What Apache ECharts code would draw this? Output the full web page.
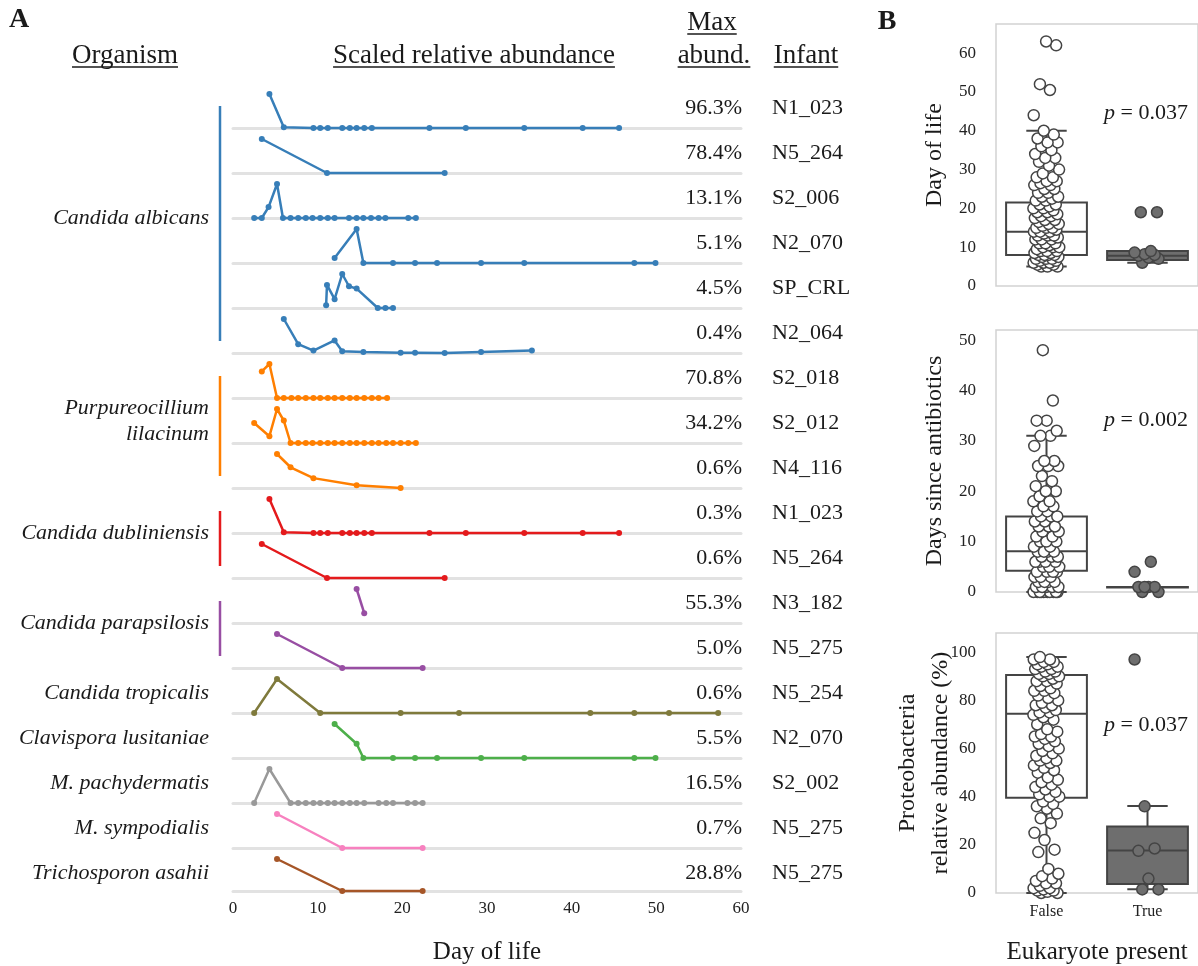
<!DOCTYPE html>
<html lang="en">
<head>
<meta charset="UTF-8" />
<title>Eukaryotes in infant gut</title>
<style>
  html, body { margin: 0; padding: 0; background: #fff; }
  #main { width: 1198px; height: 966px; }
</style>
</head>
<body>
<div id="main"></div>
<script src="https://cdn.jsdelivr.net/npm/echarts@6.0.0/dist/echarts.min.js"></script>
<script>
// ---- panel A data: one row per organism / infant pair ----
const organisms = ['Candida albicans', 'Purpureocillium\nlilacinum', 'Candida dubliniensis', 'Candida parapsilosis',
  'Candida tropicalis', 'Clavispora lusitaniae', 'M. pachydermatis', 'M. sympodialis', 'Trichosporon asahii']
const rowOrganism = [0, 0, 0, 0, 0, 0, 1, 1, 1, 2, 2, 3, 3, 4, 5, 6, 7, 8]
const rowMaxAbund = ['96.3%', '78.4%', '13.1%', '5.1%', '4.5%', '0.4%', '70.8%', '34.2%', '0.6%',
  '0.3%', '0.6%', '55.3%', '5.0%', '0.6%', '5.5%', '16.5%', '0.7%', '28.8%']
const rowInfant = ['N1_023', 'N5_264', 'S2_006', 'N2_070', 'SP_CRL', 'N2_064', 'S2_018', 'S2_012', 'N4_116',
  'N1_023', 'N5_264', 'N3_182', 'N5_275', 'N5_254', 'N2_070', 'S2_002', 'N5_275', 'N5_275']
const rowDays = [
  [4.3, 6.0, 9.5, 10.3, 11.2, 12.9, 13.8, 14.6, 15.5, 16.4, 23.2, 27.5, 34.4, 41.3, 45.6],
  [3.4, 11.1, 25.0],
  [2.5, 3.4, 4.2, 5.2, 5.9, 6.8, 7.7, 8.6, 9.4, 10.3, 11.2, 12.0, 13.7, 14.6, 15.4, 16.3, 17.2, 18.0, 20.7, 21.6],
  [12.0, 14.6, 15.4, 18.9, 21.5, 24.1, 29.3, 34.4, 47.4, 49.9],
  [11.0, 11.1, 12.0, 12.9, 13.7, 14.6, 17.1, 18.0, 18.9],
  [6.0, 7.7, 9.5, 12.0, 12.9, 15.4, 19.8, 21.5, 25.0, 29.3, 35.3],
  [3.4, 4.3, 5.2, 6.0, 6.9, 7.7, 8.6, 9.5, 10.3, 11.2, 12.0, 12.9, 13.8, 14.6, 15.5, 16.4, 17.2, 18.2],
  [2.5, 4.3, 5.2, 6.0, 6.8, 7.7, 8.6, 9.4, 10.3, 11.2, 12.0, 12.9, 13.8, 14.6, 15.5, 16.4, 17.2, 18.1, 18.9, 19.8, 20.7, 21.6],
  [5.2, 6.8, 9.5, 14.6, 19.8],
  [4.3, 6.0, 9.5, 10.3, 11.2, 12.9, 13.8, 14.6, 15.5, 16.4, 23.2, 27.5, 34.4, 41.3, 45.6],
  [3.4, 11.1, 25.0],
  [14.6, 15.5],
  [5.2, 12.9, 22.4],
  [2.5, 5.2, 10.3, 19.8, 26.7, 42.2, 47.4, 51.5, 57.3],
  [12.0, 14.6, 15.4, 18.9, 21.5, 24.1, 29.3, 34.4, 47.4, 49.9],
  [2.5, 4.3, 6.8, 7.7, 8.6, 9.5, 10.3, 11.2, 12.0, 12.9, 13.8, 14.6, 15.5, 17.2, 18.1, 18.9, 20.6, 21.5, 22.4],
  [5.2, 12.9, 22.4],
  [5.2, 12.9, 22.4]
]
const rowScaled = [
  [1, 0.02, 0, 0, 0, 0, 0, 0, 0, 0, 0, 0, 0, 0, 0],
  [1, 0, 0],
  [0, 0, 0.32, 1, 0, 0, 0, 0, 0, 0, 0, 0, 0, 0, 0, 0, 0, 0, 0, 0],
  [0.15, 1, 0, 0, 0, 0, 0, 0, 0, 0],
  [0.08, 0.68, 0.26, 1, 0.64, 0.57, 0, 0, 0],
  [1, 0.26, 0.07, 0.37, 0.05, 0.03, 0.01, 0.01, 0, 0.03, 0.07],
  [0.78, 1, 0, 0, 0, 0, 0, 0, 0, 0, 0, 0, 0, 0, 0, 0, 0, 0],
  [0.59, 0.2, 1, 0.66, 0, 0, 0, 0, 0, 0, 0, 0, 0, 0, 0, 0, 0, 0, 0, 0, 0, 0],
  [1, 0.61, 0.29, 0.08, 0],
  [1, 0.02, 0, 0, 0, 0, 0, 0, 0, 0, 0, 0, 0, 0, 0],
  [1, 0, 0],
  [1, 0.29],
  [1, 0, 0],
  [0, 1, 0, 0, 0, 0, 0, 0, 0],
  [1, 0.42, 0, 0, 0, 0, 0, 0, 0, 0],
  [0, 1, 0, 0, 0, 0, 0, 0, 0, 0, 0, 0, 0, 0, 0, 0, 0, 0, 0],
  [1, 0, 0],
  [1, 0, 0]
]

// ---- panel B data ----
const eukPresent = ['False', 'True']
const dolFalse = [5, 5, 5, 5.5, 5.5, 6, 6, 6, 6.5, 6.5, 7, 7, 7, 7.5, 7.5, 8, 8, 8, 8, 8.5, 8.5, 9, 9, 9, 9.5,
  10, 10, 10, 10.5, 11, 11, 11, 12, 12, 12, 12.5, 13, 13, 13, 13.5, 14, 14, 14, 14.5, 15, 15, 15, 15.5, 16, 16,
  16.5, 17, 17, 17.5, 18, 18, 18.5, 19, 19, 19.5, 20, 20, 20.5, 21, 21, 22, 22, 22.5, 23, 23, 24, 24, 25, 25, 26,
  26, 26.5, 27, 27, 28, 28, 29, 30, 31, 32, 33, 33, 34, 35, 36, 37, 37, 38, 39, 40, 44, 50.5, 52, 62, 63]
const dolTrue = [6, 7, 7.3, 7.8, 8, 8.2, 8.6, 9, 19, 19]
const dolBox = [[5, 8, 14, 21.5, 40], [6, 6.7, 7.8, 9, 9]]

const dsaFalse = [0, 0, 0, 0, 0, 0, 0, 0, 0, 0, 1, 1, 1, 1, 1, 2, 2, 2, 2, 3, 3, 3, 4, 4, 4, 4, 5, 5, 5, 6, 6, 6, 6,
  7, 7, 7, 8, 8, 8, 8, 9, 9, 10, 10, 10, 11, 11, 12, 12, 13, 13, 13, 14, 14, 15, 15, 15, 16, 16, 17, 17, 18, 18,
  19, 20, 20, 21, 22, 23, 25, 25, 25, 26, 26, 29, 31, 31, 32, 34, 34, 38, 48]
const dsaTrue = [0, 0, 1, 1, 1, 1, 4, 6]
const dsaBox = [[0, 4.2, 8.1, 15, 31], [1, 1, 1, 1, 1]]

const pbFalse = [0, 0, 0.5, 1, 1, 1.5, 2, 2, 3, 4, 4, 5, 6, 7, 8, 10, 17, 18, 22, 25, 29, 31, 33, 35, 36, 37, 38,
  40, 40, 41, 42, 43, 44, 45, 46, 47, 48, 50, 51, 52, 53, 54, 55, 55, 56, 57, 58, 59, 60, 61, 62, 63, 64, 65, 65,
  66, 67, 68, 70, 72, 73, 74, 75, 75, 76, 77, 78, 78, 79, 80, 81, 82, 83, 84, 84, 85, 86, 87, 88, 88, 89, 90, 90,
  91, 91, 92, 92, 93, 93, 94, 94, 95, 95, 96, 96, 97, 97, 98]
const pbTrue = [1.5, 1.5, 6, 17.5, 18.5, 36, 97]
const pbBox = [[0, 39.6, 74.5, 90.6, 98], [1.6, 3.7, 17.7, 27.6, 36.1]]

const pValues = ['0.037', '0.002', '0.037']

// ---- styling ----
const SERIF = '"Liberation Serif", "DejaVu Serif", serif'
const INK = '#1a1a1a'
const organismColors = ['#377eb8', '#ff7f00', '#e41a1c', '#984ea3', '#7f7a3c', '#4daf4a', '#999999', '#f781bf', '#a65628']

const ROW0 = 128, ROW_STEP = 45, ROW_H = 34
const A_LEFT = 233, A_WIDTH = 508

const measure = document.createElement('canvas').getContext('2d')
function textWidth (str, size) {
  measure.font = size + 'px "Liberation Serif"'
  return measure.measureText(str).width
}

const grid = [], xAxis = [], yAxis = [], series = [], graphic = []

function addText (text, x, y, opts) {
  graphic.push({
    type: 'text', x, y, silent: true,
    style: Object.assign({ text, fill: INK, fontFamily: SERIF, fontSize: 22, align: 'center', verticalAlign: 'middle' }, opts || {})
  })
}
function addLine (x1, y1, x2, y2, stroke, lineWidth) {
  graphic.push({ type: 'line', silent: true, shape: { x1, y1, x2, y2 }, style: { stroke, lineWidth } })
}

// panel letters
addText('A', 19, 20, { fontSize: 28, fontWeight: 'bold' })
addText('B', 887, 22, { fontSize: 28, fontWeight: 'bold' })

// underlined column headers
const headers = [['Organism', 125, 56, 67], ['Scaled relative abundance', 474, 56, 67],
  ['Max', 712, 23, 34], ['abund.', 714, 56, 67], ['Infant', 806, 56, 67]]
headers.forEach(([t, cx, cy, uy]) => {
  addText(t, cx, cy, { fontSize: 27 })
  const w = textWidth(t, 27)
  addLine(cx - w / 2, uy, cx + w / 2, uy, INK, 1.3)
})

// panel A rows
rowDays.forEach((days, i) => {
  const base = ROW0 + ROW_STEP * i
  const last = i === rowDays.length - 1
  const color = organismColors[rowOrganism[i]]
  grid.push({ left: A_LEFT, width: A_WIDTH, top: base - ROW_H, height: ROW_H })
  xAxis.push({
    gridIndex: i, type: 'value', min: 0, max: 60, interval: 10,
    axisLine: { lineStyle: { color: '#e2e2e2', width: 3 } },
    axisTick: { show: false }, splitLine: { show: false },
    axisLabel: { show: last, fontFamily: SERIF, fontSize: 17, color: '#222', margin: 9 },
    name: last ? 'Day of life' : '', nameLocation: 'middle', nameGap: 49,
    nameTextStyle: { fontFamily: SERIF, fontSize: 25, color: INK }
  })
  yAxis.push({ gridIndex: i, type: 'value', min: 0, max: 1, show: false })
  series.push({
    type: 'line', xAxisIndex: i, yAxisIndex: i,
    data: days.map((d, j) => [d, rowScaled[i][j]]),
    symbol: 'circle', symbolSize: 6, clip: false, z: 3,
    lineStyle: { color, width: 2.5 }, itemStyle: { color }
  })
  addText(rowMaxAbund[i], 742, base - 20, { align: 'right' })
  addText(rowInfant[i], 772, base - 20, { align: 'left' })
})

// organism labels and brackets
organisms.forEach((name, g) => {
  const rows = rowOrganism.map((o, i) => o === g ? i : -1).filter(i => i >= 0)
  const bases = rows.map(i => ROW0 + ROW_STEP * i)
  const mid = bases.reduce((a, b) => a + b, 0) / bases.length
  const single = rows.length === 1
  addText(name, 209, single ? mid - 20 : mid - 22, { align: 'right', fontStyle: 'italic', lineHeight: 26 })
  if (!single) {
    addLine(220, bases[0] - 22, 220, bases[bases.length - 1] - 12, organismColors[g], 2.5)
  }
})

// panel B
const bPanels = [
  { title: 'Day of life', max: 67.5, interval: 10, top: 24, gap: 45, box: dolBox, f: dolFalse, t: dolTrue },
  { title: 'Days since antibiotics', max: 52, interval: 10, top: 330, gap: 45, box: dsaBox, f: dsaFalse, t: dsaTrue },
  { title: 'Proteobacteria\nrelative abundance (%)', max: 108, interval: 20, top: 633, gap: 39, box: pbBox, f: pbFalse, t: pbTrue }
]
const boxFill = ['#ffffff', '#6e6e6e']
const dotFill = ['#ffffff', '#6e6e6e']
const jitter = i => (((i * 0.618034 + 0.3) % 1) - 0.5) * 0.26

bPanels.forEach((p, k) => {
  const gi = grid.length
  const bottom = k === bPanels.length - 1
  grid.push({ left: 996, width: 204, top: p.top, height: 262, show: true, borderColor: '#d2d2d2', borderWidth: 1.5, backgroundColor: 'transparent' })
  const catIdx = xAxis.length
  xAxis.push({
    gridIndex: gi, type: 'category', data: eukPresent,
    axisLine: { show: false }, axisTick: { show: false },
    axisLabel: { show: bottom, fontFamily: SERIF, fontSize: 16, color: '#222', margin: 11 },
    name: bottom ? 'Eukaryote present' : '', nameLocation: 'middle', nameGap: 47, nameMoveOverlap: false,
    nameTextStyle: { fontFamily: SERIF, fontSize: 25, color: INK }
  })
  const valIdx = xAxis.length
  xAxis.push({ gridIndex: gi, type: 'value', min: -0.5, max: 1.5, show: false })
  const yIdx = yAxis.length
  yAxis.push({
    gridIndex: gi, type: 'value', min: 0, max: p.max, interval: p.interval,
    axisLine: { show: false }, axisTick: { show: false }, splitLine: { show: false },
    axisLabel: { fontFamily: SERIF, fontSize: 17, color: '#222', margin: 20, formatter: v => (v % p.interval === 0 ? v : '') },
    name: p.title, nameLocation: 'middle', nameRotate: 90, nameGap: p.gap, nameMoveOverlap: false,
    nameTextStyle: { fontFamily: SERIF, fontSize: 24, color: INK, lineHeight: 33 }
  })
  series.push({
    type: 'custom', xAxisIndex: catIdx, yAxisIndex: yIdx, z: 2,
    data: p.box.map((b, c) => [c].concat(b)),
    encode: { x: 0, y: [1, 2, 3, 4, 5] },
    renderItem: (params, api) => {
      const c = api.value(0)
      const w = api.size([1, 0])[0] * 0.8
      const pt = idx => api.coord([c, api.value(idx)])
      const cx = pt(3)[0]
      const yLo = pt(1)[1], yQ1 = pt(2)[1], yMed = pt(3)[1], yQ3 = pt(4)[1], yHi = pt(5)[1]
      const st = { stroke: '#444', lineWidth: 2 }
      return {
        type: 'group',
        children: [
          { type: 'line', shape: { x1: cx, y1: yQ3, x2: cx, y2: yHi }, style: st },
          { type: 'line', shape: { x1: cx, y1: yQ1, x2: cx, y2: yLo }, style: st },
          { type: 'line', shape: { x1: cx - w / 4, y1: yHi, x2: cx + w / 4, y2: yHi }, style: st },
          { type: 'line', shape: { x1: cx - w / 4, y1: yLo, x2: cx + w / 4, y2: yLo }, style: st },
          { type: 'rect', shape: { x: cx - w / 2, y: yQ3, width: w, height: Math.max(yQ1 - yQ3, 0.5) }, style: { fill: boxFill[c], stroke: '#444', lineWidth: 2 } },
          { type: 'line', shape: { x1: cx - w / 2, y1: yMed, x2: cx + w / 2, y2: yMed }, style: st }
        ]
      }
    }
  })
  ;[p.f, p.t].forEach((vals, c) => {
    series.push({
      type: 'scatter', xAxisIndex: valIdx, yAxisIndex: yIdx, z: 4,
      data: vals.map((v, i) => [c + jitter(i), v]),
      symbol: 'circle', symbolSize: 11, clip: false,
      itemStyle: { color: dotFill[c], borderColor: '#444', borderWidth: 1.5, opacity: 1 }
    })
  })
  const pY = [113, 420, 725][k]
  addText('{i|p} = ' + pValues[k], 1146, pY, { rich: { i: { fontStyle: 'italic', fontFamily: SERIF, fontSize: 22, fill: INK } } })
})

const chart = echarts.init(document.getElementById('main'), null, { renderer: 'canvas' })
chart.setOption({
  animation: false,
  backgroundColor: '#fff',
  grid, xAxis, yAxis, series, graphic
})
</script>
</body>
</html>
